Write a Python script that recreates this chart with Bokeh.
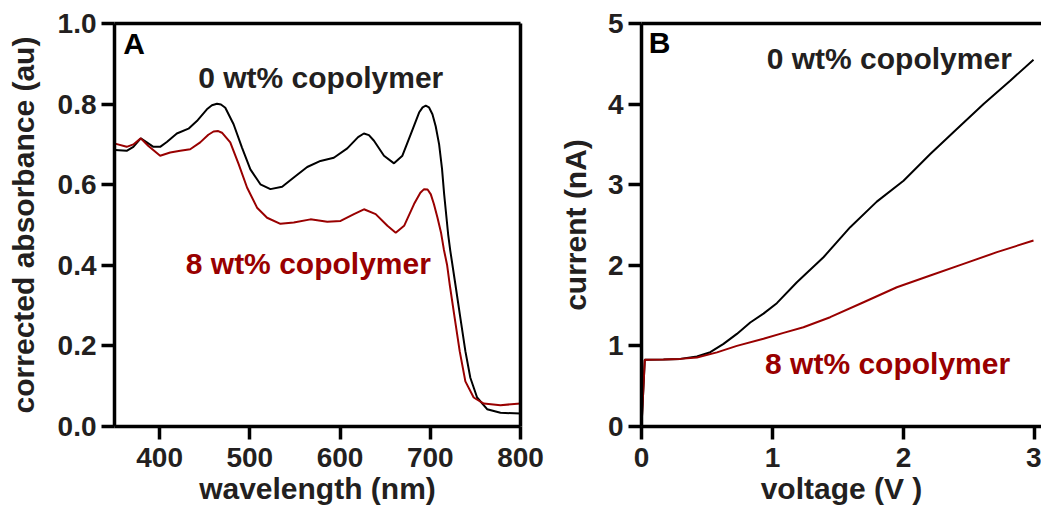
from bokeh.plotting import figure
from bokeh.layouts import row
from bokeh.models import Label, LinearAxis, FixedTicker, Range1d
from bokeh.embed import file_html
from bokeh.resources import INLINE

# ---------------- data ----------------
# Panel A: corrected absorbance vs wavelength
wl_0 = [350.6, 363.5, 370.9, 379.1, 385.8, 393.1, 400.6, 408.0, 419.1, 432.0, 441.3,
        452.4, 458.0, 463.6, 468.0, 472.8, 482.0, 491.3, 500.6, 511.7, 522.8, 535.8,
        548.7, 563.6, 578.3, 593.1, 608.0, 620.0, 626.4, 632.0, 637.6, 648.7, 659.8,
        669.1, 678.3, 687.6, 691.5, 695.0, 698.5, 702.4, 706.0, 709.8, 713.0, 715.4,
        719.8, 722.2, 727.8, 733.3, 738.9, 744.4, 751.9, 763.0, 777.8, 800.0]
abs_0 = [0.686, 0.684, 0.694, 0.715, 0.705, 0.694, 0.694, 0.706, 0.727, 0.739, 0.758,
         0.787, 0.797, 0.801, 0.799, 0.791, 0.750, 0.692, 0.638, 0.601, 0.589, 0.595,
         0.618, 0.644, 0.659, 0.667, 0.690, 0.718, 0.727, 0.723, 0.709, 0.672, 0.653,
         0.672, 0.725, 0.779, 0.792, 0.796, 0.792, 0.775, 0.745, 0.700, 0.640, 0.576,
         0.477, 0.436, 0.353, 0.270, 0.187, 0.121, 0.072, 0.043, 0.034, 0.032]

wl_8 = [350.6, 363.5, 370.9, 379.1, 387.6, 400.6, 411.7, 422.8, 433.9, 445.0, 454.0,
        459.8, 465.0, 469.1, 478.3, 487.6, 496.9, 508.0, 519.1, 533.9, 548.7, 567.2,
        585.8, 600.6, 615.4, 626.5, 639.5, 652.5, 661.7, 671.0, 682.0, 689.0, 693.1,
        697.0, 700.6, 704.0, 708.0, 712.0, 715.0, 718.7, 721.5, 727.0, 732.6, 738.9,
        748.1, 759.3, 777.8, 800.0]
abs_8 = [0.702, 0.694, 0.700, 0.715, 0.696, 0.672, 0.680, 0.684, 0.688, 0.705, 0.724,
         0.732, 0.733, 0.729, 0.705, 0.651, 0.593, 0.543, 0.518, 0.503, 0.506, 0.514,
         0.508, 0.510, 0.527, 0.539, 0.527, 0.498, 0.481, 0.498, 0.552, 0.580, 0.589,
         0.588, 0.576, 0.552, 0.518, 0.480, 0.440, 0.400, 0.353, 0.270, 0.187, 0.112,
         0.072, 0.057, 0.053, 0.057]

# Panel B: current vs voltage
v_0 = [0.0, 0.025, 0.168, 0.295, 0.423, 0.525, 0.626, 0.728, 0.830, 0.931, 1.033,
       1.186, 1.389, 1.593, 1.796, 2.000, 2.204, 2.407, 2.611, 2.814, 2.992]
i_0 = [0.0, 0.827, 0.831, 0.839, 0.868, 0.922, 1.025, 1.149, 1.290, 1.400, 1.530,
       1.790, 2.100, 2.473, 2.790, 3.050, 3.380, 3.690, 4.000, 4.290, 4.550]

v_8 = [0.0, 0.025, 0.168, 0.295, 0.423, 0.576, 0.728, 0.931, 1.084, 1.236, 1.440,
       1.695, 1.949, 2.204, 2.458, 2.713, 2.992]
i_8 = [0.0, 0.827, 0.831, 0.839, 0.857, 0.920, 1.000, 1.088, 1.162, 1.232, 1.356,
       1.542, 1.728, 1.873, 2.018, 2.163, 2.308]

wl_ticks = [400, 500, 600, 700, 800]
abs_ticks = [0.0, 0.2, 0.4, 0.6, 0.8, 1.0]
abs_tick_labels = ["0.0", "0.2", "0.4", "0.6", "0.8", "1.0"]
v_ticks = [0, 1, 2, 3]
i_ticks = [0, 1, 2, 3, 4, 5]

series_names = ["0 wt% copolymer", "8 wt% copolymer"]

# ---------------- style ----------------
FONT = "Liberation Sans"
TXT = "#231f20"
RED = "#990000"
BLK = "#000000"
AXW = 3.5
H = 514


def style_axis(ax, label=None):
    ax.axis_line_width = AXW
    ax.axis_line_color = BLK
    ax.major_tick_line_width = AXW
    ax.major_tick_line_color = BLK
    ax.major_tick_out = 13
    ax.major_tick_in = 0
    ax.minor_tick_line_color = None
    ax.major_label_text_font = FONT
    ax.major_label_text_font_style = "bold"
    ax.major_label_text_font_size = "28px"
    ax.major_label_text_color = TXT
    ax.major_label_standoff = 5
    ax.axis_label = label
    ax.axis_label_text_font = FONT
    ax.axis_label_text_font_style = "bold"
    ax.axis_label_text_font_size = "30px"
    ax.axis_label_text_color = TXT


def border_axis(p, side):
    ax = LinearAxis(ticker=FixedTicker(ticks=[]), axis_line_width=AXW, axis_line_color=BLK,
                    major_tick_line_color=None, minor_tick_line_color=None,
                    major_tick_out=0, major_label_standoff=0,
                    major_label_text_font_size="0px", axis_label=None)
    p.add_layout(ax, side)


def make_fig(width, x_range, y_range, mb_left, mb_right):
    p = figure(width=width, height=H, x_range=x_range, y_range=y_range,
               output_backend="svg", toolbar_location=None,
               min_border_left=mb_left, min_border_right=mb_right,
               min_border_top=23, min_border_bottom=H - 426)
    p.xgrid.visible = False
    p.ygrid.visible = False
    p.outline_line_color = None
    p.background_fill_color = "white"
    p.border_fill_color = "white"
    return p


def add_label(p, x, y, text, color, size="30px"):
    p.add_layout(Label(x=x, y=y, text=text, text_color=color, text_font=FONT,
                       text_font_style="bold", text_font_size=size,
                       text_align="left", text_baseline="alphabetic"))


# ---------------- panel A ----------------
p1 = make_fig(553, Range1d(350, 800), Range1d(0, 1), 114, 33)
style_axis(p1.xaxis[0], "wavelength (nm)")
style_axis(p1.yaxis[0], "corrected absorbance (au)")
p1.xaxis[0].ticker = FixedTicker(ticks=wl_ticks)
p1.xaxis[0].major_label_standoff = 8
p1.xaxis[0].axis_label_standoff = 2
p1.yaxis[0].ticker = FixedTicker(ticks=abs_ticks)
p1.yaxis[0].major_label_overrides = {t: s for t, s in zip(abs_ticks, abs_tick_labels)}
p1.yaxis[0].axis_label_standoff = 15
border_axis(p1, "above")
border_axis(p1, "right")

p1.line(wl_0, abs_0, line_color=BLK, line_width=2)
p1.line(wl_8, abs_8, line_color=RED, line_width=2)

add_label(p1, 359.8, 0.951, "A", BLK)
add_label(p1, 442.8, 0.867, series_names[0], TXT)
add_label(p1, 429.0, 0.405, series_names[1], RED)

# ---------------- panel B ----------------
p2 = make_fig(488, Range1d(0, 3.053), Range1d(0, 5), 88, 0)
style_axis(p2.xaxis[0], "voltage (V )")
style_axis(p2.yaxis[0], "current (nA)")
p2.xaxis[0].ticker = FixedTicker(ticks=v_ticks)
p2.xaxis[0].major_label_standoff = 8
p2.xaxis[0].axis_label_standoff = 2
p2.yaxis[0].ticker = FixedTicker(ticks=i_ticks)
p2.yaxis[0].axis_label_standoff = 13
border_axis(p2, "above")

p2.line(v_0, i_0, line_color=BLK, line_width=2)
p2.line(v_8, i_8, line_color=RED, line_width=2)

add_label(p2, 0.056, 4.76, "B", BLK)
add_label(p2, 0.956, 4.57, series_names[0], TXT)
add_label(p2, 0.943, 0.78, series_names[1], RED)

layout = row(p1, p2)
open("out.html", "w").write(file_html(layout, INLINE))
